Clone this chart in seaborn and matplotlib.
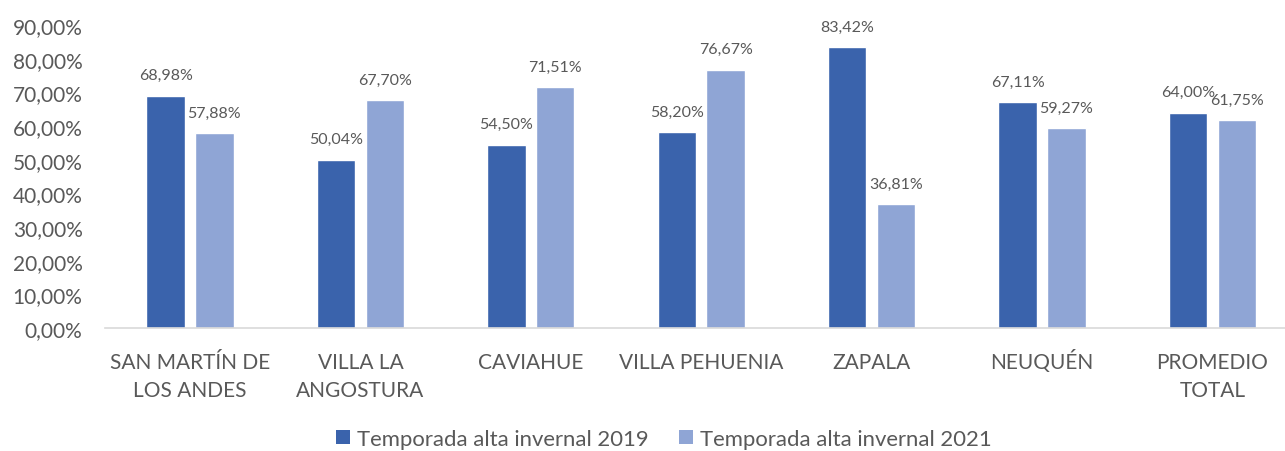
import pandas as pd
import matplotlib
matplotlib.use("Agg")
import matplotlib.pyplot as plt
import seaborn as sns
from matplotlib.patches import Patch

# data
localidades = ["SAN MARTÍN DE\nLOS ANDES", "VILLA LA\nANGOSTURA", "CAVIAHUE",
               "VILLA PEHUENIA", "ZAPALA", "NEUQUÉN", "PROMEDIO\nTOTAL"]
temporada_2019 = [68.98, 50.04, 54.50, 58.20, 83.42, 67.11, 64.00]
temporada_2021 = [57.88, 67.70, 71.51, 76.67, 36.81, 59.27, 61.75]
series = ["Temporada alta invernal 2019", "Temporada alta invernal 2021"]
colores = ["#3A63AC", "#8FA5D5"]
y_ticks = [0, 10, 20, 30, 40, 50, 60, 70, 80, 90]

df = pd.DataFrame({
    "Localidad": localidades * 2,
    "Serie": [series[0]] * len(localidades) + [series[1]] * len(localidades),
    "Ocupacion": temporada_2019 + temporada_2021,
})

sns.set_theme(style="white")
plt.rcParams["font.family"] = ["Lato", "DejaVu Sans"]
gris = "#595959"
px = 72 / 100  # points per pixel at dpi 100

fig = plt.figure(figsize=(12.85, 4.52), dpi=100)
ax = fig.add_axes([104.8 / 1285, 1 - 329 / 452, 1192.8 / 1285, 303 / 452])

sns.barplot(data=df, x="Localidad", y="Ocupacion", hue="Serie",
            palette=colores, width=0.572, gap=0.21, ax=ax,
            saturation=1, legend=False, errorbar=None)

def fmt(v):
    return f"{v:.2f}".replace(".", ",") + "%"

for cont in ax.containers:
    for bar in cont:
        h = bar.get_height()
        ax.annotate(fmt(h), (bar.get_x() + bar.get_width() / 2, h),
                    xytext=(0, 12), textcoords="offset points",
                    ha="center", va="baseline", fontsize=11.5, color=gris)

ax.set_ylim(0, 90)
ax.set_xlim(-0.5, len(localidades) - 0.5)
ax.set_yticks(y_ticks)
ax.set_yticklabels([f"{t},00%" for t in y_ticks])
ax.set_xlabel("")
ax.set_ylabel("")
ax.tick_params(axis="y", length=0, pad=16, labelsize=15, labelcolor=gris)
ax.tick_params(axis="x", length=0)
ax.set_xticklabels([])

# category labels, one line at a time so first-line baselines line up
for i, nombre in enumerate(localidades):
    for j, linea in enumerate(nombre.split("\n")):
        ax.annotate(linea, (i, 0), xycoords=("data", "axes fraction"),
                    xytext=(0, -(40 + 28 * j) * px), textcoords="offset points",
                    ha="center", va="baseline", fontsize=15, color=gris)

for s in ["left", "right", "top"]:
    ax.spines[s].set_visible(False)
ax.spines["bottom"].set_color("#D9D9D9")
ax.spines["bottom"].set_linewidth(1.2)

handles = [Patch(facecolor=c, edgecolor="none") for c in colores]
fig.legend(handles, series, loc="center", bbox_to_anchor=(664 / 1285, 1 - 440 / 452),
           ncol=2, frameon=False, fontsize=15.9, labelcolor=gris,
           handlelength=0.62, handleheight=0.62, handletextpad=0.35,
           columnspacing=1.35, borderpad=0)

fig.savefig("out.png", dpi=100)
plt.close(fig)
